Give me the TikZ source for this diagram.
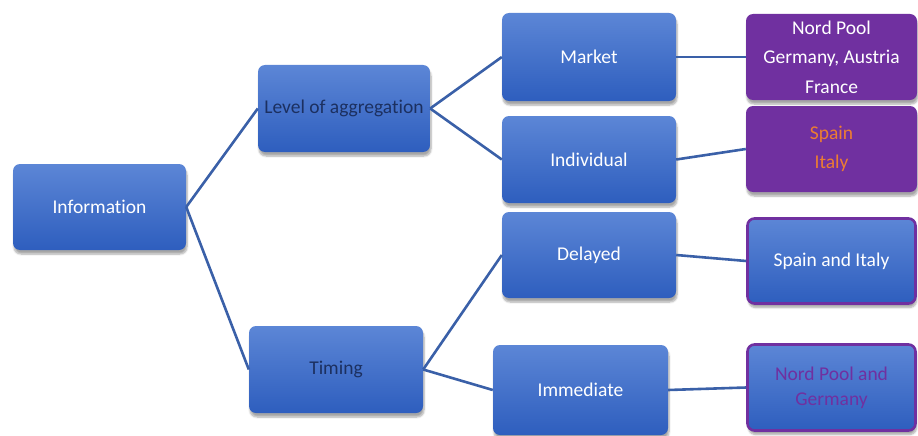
\documentclass[tikz,border=0pt]{standalone}
\usepackage{fontspec}
\setmainfont{Carlito}[Ligatures={NoCommon}]
\usetikzlibrary{shadows.blur}
\definecolor{boxtop}{RGB}{92,134,214}
\definecolor{boxbot}{RGB}{46,94,190}
\definecolor{linkblue}{RGB}{58,96,168}
\definecolor{navytext}{RGB}{28,48,96}
\definecolor{purplebox}{RGB}{112,48,160}
\definecolor{orangetext}{RGB}{237,125,49}
\tikzset{
  bluebox/.style={rectangle, rounded corners=7pt, top color=boxtop, bottom color=boxbot,
    draw=none, text=white, align=center, inner sep=1pt,
    font=\fontsize{19.5}{29.5}\selectfont,
    blur shadow={shadow xshift=1pt, shadow yshift=-4pt, shadow blur steps=6, shadow opacity=35}},
  purplefill/.style={rectangle, rounded corners=7pt, fill=purplebox, draw=none,
    text=white, align=center, inner sep=1pt,
    font=\fontsize{19.5}{29.5}\selectfont,
    blur shadow={shadow xshift=1pt, shadow yshift=-4pt, shadow blur steps=6, shadow opacity=35}},
  outlinebox/.style={bluebox, draw=purplebox, line width=2.6pt},
  link/.style={draw=linkblue, line width=2.6pt},
}
\begin{document}
\begin{tikzpicture}[x=1pt, y=-1pt]
\useasboundingbox (0,0) rectangle (918,436);

% first level
\node[bluebox, minimum width=173pt, minimum height=86pt] (info) at (99.5,207) {Information};

% second level
\node[bluebox, text=navytext, minimum width=172pt, minimum height=87pt] (agg) at (344,108.5) {Level of aggregation};
\node[bluebox, text=navytext, minimum width=174pt, minimum height=87pt] (timing) at (336,369.5) {Timing};

% third level
\node[bluebox, minimum width=174pt, minimum height=88pt] (market) at (589,57) {Market};
\node[bluebox, minimum width=174pt, minimum height=87pt] (indiv) at (589,159.5) {Individual};
\node[bluebox, minimum width=174pt, minimum height=86pt] (delayed) at (589,255) {Delayed};
\node[bluebox, minimum width=175pt, minimum height=90pt] (immediate) at (580.5,390) {Immediate};

% country boxes
\node[purplefill, minimum width=171pt, minimum height=86pt] (np) at (831.5,57)
  {Nord Pool\\Germany, Austria\\France};
\node[purplefill, text=orangetext, minimum width=171pt, minimum height=86pt] (si) at (831.5,149)
  {Spain\\Italy};
\node[outlinebox, minimum width=168pt, minimum height=85pt] (sai) at (831.5,261)
  {Spain and Italy};
\node[outlinebox, text=purplebox, minimum width=168pt, minimum height=86pt,
      font=\fontsize{19.5}{25}\selectfont] (npg) at (831.5,387.5)
  {Nord Pool and\\Germany};

% connectors
\draw[link] (info.east) -- (agg.west);
\draw[link] (info.east) -- (timing.west);
\draw[link] (agg.east) -- (market.west);
\draw[link] (agg.east) -- (indiv.west);
\draw[link] (timing.east) -- (delayed.west);
\draw[link] (timing.east) -- (immediate.west);
\draw[link] (market.east) -- (np.west);
\draw[link] (indiv.east) -- (si.west);
\draw[link] (delayed.east) -- (sai.west);
\draw[link] (immediate.east) -- (npg.west);
\end{tikzpicture}
\end{document}
